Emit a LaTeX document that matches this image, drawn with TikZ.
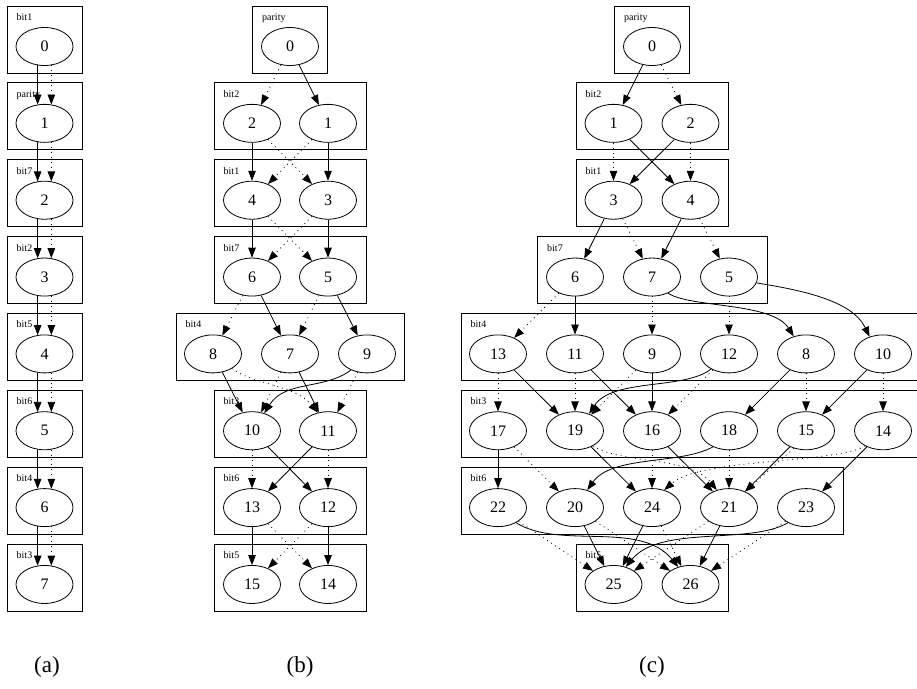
\documentclass[tikz,border=0pt]{standalone}
\usepackage{fontspec}
\setmainfont{Liberation Serif}
\usetikzlibrary{shapes.geometric,arrows.meta}
\tikzset{
 st/.style={ellipse, draw, line width=0.8pt, minimum width=57pt, minimum height=38pt, inner sep=0pt, font=\fontsize{16}{18}\selectfont},
 clus/.style={draw, line width=0.8pt},
 lab/.style={anchor=base west, inner sep=0pt, font=\fontsize{10}{12}\selectfont},
 hi/.style={draw, line width=0.8pt, -{Triangle[length=10pt,width=7.5pt]}},
 lo/.style={hi, dash pattern=on 0.9pt off 4pt},
 captext/.style={font=\fontsize{23}{26}\selectfont, inner sep=0pt},
}
\begin{document}
\begin{tikzpicture}[x=1pt,y=-1pt]
\useasboundingbox (0,0) rectangle (917,688);
% ---------------- (a) ----------------
\draw[clus] (7,6) rectangle (82,73);        \node[lab] (la0) at (16.5,20.5) {bit1};
\draw[clus] (7,82.85) rectangle (82,149.85); \node[lab] (la1) at (16.5,97.35) {parity};
\draw[clus] (7,159.7) rectangle (82,226.7);  \node[lab] (la2) at (16.5,174.2) {bit7};
\draw[clus] (7,236.55) rectangle (82,303.55);\node[lab] (la3) at (16.5,251.05) {bit2};
\draw[clus] (7,313.4) rectangle (82,380.4);  \node[lab] (la4) at (16.5,327.9) {bit5};
\draw[clus] (7,390.25) rectangle (82,457.25);\node[lab] (la5) at (16.5,404.75) {bit6};
\draw[clus] (7,467.1) rectangle (82,534.1);  \node[lab] (la6) at (16.5,481.6) {bit4};
\draw[clus] (7,543.95) rectangle (82,610.95);\node[lab] (la7) at (16.5,558.45) {bit3};
\node[st] (a0) at (44.5,46.5) {0};
\node[st] (a1) at (44.5,123.35) {1};
\node[st] (a2) at (44.5,200.2) {2};
\node[st] (a3) at (44.5,277.05) {3};
\node[st] (a4) at (44.5,353.9) {4};
\node[st] (a5) at (44.5,430.75) {5};
\node[st] (a6) at (44.5,507.6) {6};
\node[st] (a7) at (44.5,584.45) {7};
\foreach \i [evaluate=\i as \j using int(\i+1)] in {0,...,6}{
  \draw[hi] (a\i.250) -- (a\j.110);
  \draw[lo] (a\i.290) -- (a\j.70);
}
% ---------------- (b) ----------------
\draw[clus] (252.5,6) rectangle (327.5,73);      \node[lab] (lb0) at (262,20.5) {parity};
\draw[clus] (214,82.85) rectangle (366,149.85);  \node[lab] (lb1) at (223.5,97.35) {bit2};
\draw[clus] (214,159.7) rectangle (366,226.7);   \node[lab] (lb2) at (223.5,174.2) {bit1};
\draw[clus] (214,236.55) rectangle (366,303.55); \node[lab] (lb3) at (223.5,251.05) {bit7};
\draw[clus] (176,313.4) rectangle (404,380.4);   \node[lab] (lb4) at (185.5,327.9) {bit4};
\draw[clus] (214,390.25) rectangle (366,457.25); \node[lab] (lb5) at (223.5,404.75) {bit3};
\draw[clus] (214,467.1) rectangle (366,534.1);   \node[lab] (lb6) at (223.5,481.6) {bit6};
\draw[clus] (214,543.95) rectangle (366,610.95); \node[lab] (lb7) at (223.5,558.45) {bit5};
\node[st] (b0) at (290,46.5) {0};
\node[st] (b2) at (252,123.35) {2};
\node[st] (b1) at (328,123.35) {1};
\node[st] (b4) at (252,200.2) {4};
\node[st] (b3) at (328,200.2) {3};
\node[st] (b6) at (252,277.05) {6};
\node[st] (b5) at (328,277.05) {5};
\node[st] (b8) at (213,353.9) {8};
\node[st] (b7) at (290,353.9) {7};
\node[st] (b9) at (367,353.9) {9};
\node[st] (b10) at (252,430.75) {10};
\node[st] (b11) at (328,430.75) {11};
\node[st] (b13) at (252,507.6) {13};
\node[st] (b12) at (328,507.6) {12};
\node[st] (b15) at (252,584.45) {15};
\node[st] (b14) at (328,584.45) {14};
\draw[hi] (b0) -- (b1); \draw[lo] (b0) -- (b2);
\draw[hi] (b2) -- (b4); \draw[hi] (b1) -- (b3); \draw[lo] (b2) -- (b3); \draw[lo] (b1) -- (b4);
\draw[hi] (b4) -- (b6); \draw[hi] (b3) -- (b5); \draw[lo] (b4) -- (b5); \draw[lo] (b3) -- (b6);
\draw[hi] (b6) -- (b7); \draw[lo] (b6) -- (b8); \draw[hi] (b5) -- (b9); \draw[lo] (b5) -- (b7);
\draw[hi] (b8) -- (b10);
\draw[lo] (b8.-38) .. controls (255,385) and (295,385) .. (b11.119);
\draw[hi] (b7) -- (b11); \draw[lo] (b7) -- (b10);
\draw[hi] (b9.225) .. controls (325,390) and (285,380) .. (b10.55);
\draw[lo] (b9) -- (b11);
\draw[hi] (b10) -- (b12); \draw[hi] (b11) -- (b13); \draw[lo] (b10) -- (b13); \draw[lo] (b11) -- (b12);
\draw[hi] (b13) -- (b15); \draw[hi] (b12) -- (b14); \draw[lo] (b13) -- (b14); \draw[lo] (b12) -- (b15);
% ---------------- (c) ----------------
\draw[clus] (614.5,6) rectangle (689.5,73);       \node[lab] (lc0) at (624,20.5) {parity};
\draw[clus] (576,82.85) rectangle (728,149.85);   \node[lab] (lc1) at (585.5,97.35) {bit2};
\draw[clus] (576,159.7) rectangle (728,226.7);    \node[lab] (lc2) at (585.5,174.2) {bit1};
\draw[clus] (537.5,236.55) rectangle (767,303.55);\node[lab] (lc3) at (547,251.05) {bit7};
\draw[clus] (461,313.4) rectangle (921,380.4);    \node[lab] (lc4) at (470.5,327.9) {bit4};
\draw[clus] (461,390.25) rectangle (921,457.25);  \node[lab] (lc5) at (470.5,404.75) {bit3};
\draw[clus] (461,467.1) rectangle (843.5,534.1);  \node[lab] (lc6) at (470.5,481.6) {bit6};
\draw[clus] (576,543.95) rectangle (728,610.95);  \node[lab] (lc7) at (585.5,558.45) {bit5};
\node[st] (c0) at (652,46.5) {0};
\node[st] (c1) at (613.5,123.35) {1};
\node[st] (c2) at (690.5,123.35) {2};
\node[st] (c3) at (613.5,200.2) {3};
\node[st] (c4) at (690.5,200.2) {4};
\node[st] (c6) at (575,277.05) {6};
\node[st] (c7) at (652,277.05) {7};
\node[st] (c5) at (729,277.05) {5};
\node[st] (c13) at (498,353.9) {13};
\node[st] (c11) at (575,353.9) {11};
\node[st] (c9) at (652,353.9) {9};
\node[st] (c12) at (729,353.9) {12};
\node[st] (c8) at (806,353.9) {8};
\node[st] (c10) at (883,353.9) {10};
\node[st] (c17) at (498,430.75) {17};
\node[st] (c19) at (575,430.75) {19};
\node[st] (c16) at (652,430.75) {16};
\node[st] (c18) at (729,430.75) {18};
\node[st] (c15) at (806,430.75) {15};
\node[st] (c14) at (883,430.75) {14};
\node[st] (c22) at (498,507.6) {22};
\node[st] (c20) at (575,507.6) {20};
\node[st] (c24) at (652,507.6) {24};
\node[st] (c21) at (729,507.6) {21};
\node[st] (c23) at (806,507.6) {23};
\node[st] (c25) at (613.5,584.45) {25};
\node[st] (c26) at (690.5,584.45) {26};
\draw[hi] (c0) -- (c1); \draw[lo] (c0) -- (c2);
\draw[lo] (c1) -- (c3); \draw[lo] (c2) -- (c4); \draw[hi] (c1) -- (c4); \draw[hi] (c2) -- (c3);
\draw[hi] (c3) -- (c6); \draw[lo] (c3) -- (c7); \draw[hi] (c4) -- (c7); \draw[lo] (c4) -- (c5);
\draw[hi] (c6) -- (c11); \draw[lo] (c6) -- (c13);
\draw[hi] (c7.-45) .. controls (690,308) and (772,302) .. (c8.125);
\draw[lo] (c7) -- (c9);
\draw[hi] (c5.-12) .. controls (800,290) and (852,300) .. (c10.128);
\draw[lo] (c5) -- (c12);
\draw[hi] (c13) -- (c19); \draw[lo] (c13) -- (c17);
\draw[hi] (c11) -- (c16); \draw[lo] (c11) -- (c19);
\draw[hi] (c9) -- (c16); \draw[lo] (c9) -- (c19);
\draw[hi] (c12.220) .. controls (685,390) and (612,378) .. (c19.50);
\draw[lo] (c12) -- (c16);
\draw[hi] (c8) -- (c18); \draw[lo] (c8) -- (c15);
\draw[hi] (c10) -- (c15); \draw[lo] (c10) -- (c14);
\draw[hi] (c17) -- (c22); \draw[lo] (c17) -- (c20);
\draw[hi] (c19) -- (c24);
\draw[lo] (c19.-40) .. controls (620,464) and (690,456) .. (c21.125);
\draw[hi] (c16) -- (c21); \draw[lo] (c16) -- (c24);
\draw[hi] (c18.225) .. controls (680,465) and (612,455) .. (c20.55);
\draw[lo] (c18) -- (c21);
\draw[hi] (c15) -- (c21); \draw[lo] (c15.235) -- (c21.45);
\draw[hi] (c14) -- (c23);
\draw[lo] (c14.220) .. controls (840,463) and (700,458) .. (c24.55);
\draw[hi] (c22.-40) .. controls (560,550) and (640,520) .. (c26.125);
\draw[lo] (c22) -- (c25);
\draw[hi] (c20) -- (c25); \draw[lo] (c20) -- (c26);
\draw[hi] (c24) -- (c25); \draw[lo] (c24) -- (c26);
\draw[hi] (c21) -- (c26); \draw[lo] (c21) -- (c25);
\draw[hi] (c23.220) .. controls (750,545) and (660,525) .. (c25.55);
\draw[lo] (c23) -- (c26);
% captions
\node[captext] (capa) at (47,667) {(a)};
\node[captext] (capb) at (300,667) {(b)};
\node[captext] (capc) at (652,667) {(c)};
\end{tikzpicture}
\end{document}
